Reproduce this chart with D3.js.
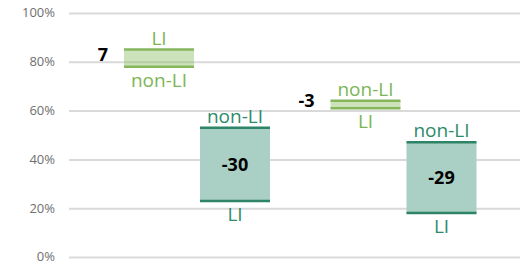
<!DOCTYPE html>
<html>
<head>
<meta charset="utf-8">
<script src="https://cdn.jsdelivr.net/npm/d3@7"></script>
<style>
  body { margin: 0; background: #fff; }
  svg { display: block; }
</style>
</head>
<body>
<div id="chart-container"></div>
<script>
// Data
const groups = ["Group 1", "Group 2"];
const subgroups = ["A", "B"];
const liValues = [85, 23, 61, 18];      // LI share per bar
const nonLiValues = [78, 53, 64, 47];   // non-LI share per bar
const yTicks = [0, 20, 40, 60, 80, 100];

const bars = liValues.map((li, i) => ({
  group: groups[Math.floor(i / 2)],
  sub: subgroups[i % 2],
  li: li,
  nonLi: nonLiValues[i],
  diff: li - nonLiValues[i]
}));

const width = 520, height = 264;
const styles = {
  A: { line: "#86b65c", fill: "#8fbf65", fillOpacity: 0.45, text: "#7cb556" },
  B: { line: "#2e8466", fill: "#aacfc4", fillOpacity: 1, text: "#2d8a6b" }
};

// Scales
const x = d3.scaleBand().domain(groups).range([94, 507]);
const xSub = d3.scaleBand().domain(subgroups).range([30, 176]).paddingInner(0.079);
const y = d3.scaleLinear().domain([0, 100]).range([257, 13]);

const svg = d3.select("#chart-container")
  .append("svg")
  .attr("width", width)
  .attr("height", height);

// Gridlines + y axis
const yAxis = svg.append("g")
  .attr("transform", "translate(69,0)")
  .call(d3.axisLeft(y).tickValues(yTicks).tickSize(-451).tickPadding(14)
    .tickFormat(d => d + "%"));
yAxis.select(".domain").remove();
yAxis.selectAll(".tick line")
  .attr("stroke", "#d9d9d9")
  .attr("stroke-width", 2);
yAxis.selectAll(".tick text")
  .attr("fill", "#6f6f6f")
  .attr("dy", "0.3em")
  .style("font-family", "'Liberation Sans Narrow', 'Open Sans', sans-serif")
  .style("font-size", "13px");

const barG = svg.append("g")
  .selectAll("g")
  .data(bars)
  .join("g")
  .attr("transform", d => `translate(${x(d.group) + xSub(d.sub)},0)`);

const bw = xSub.bandwidth();

// Box between the two values
barG.append("rect")
  .attr("x", 0)
  .attr("width", bw)
  .attr("y", d => y(Math.max(d.li, d.nonLi)))
  .attr("height", d => Math.abs(y(d.li) - y(d.nonLi)))
  .attr("fill", d => styles[d.sub].fill)
  .attr("fill-opacity", d => styles[d.sub].fillOpacity);

// Value lines
["li", "nonLi"].forEach(k => {
  barG.append("line")
    .attr("x1", 0)
    .attr("x2", bw)
    .attr("y1", d => y(d[k]))
    .attr("y2", d => y(d[k]))
    .attr("stroke", d => styles[d.sub].line)
    .attr("stroke-width", 2.5);
});

// LI / non-LI labels
const labelFont = "'Open Sans', sans-serif";
["li", "nonLi"].forEach(k => {
  barG.append("text")
    .attr("x", bw / 2)
    .attr("y", d => {
      const top = d[k] >= (k === "li" ? d.nonLi : d.li);
      return top ? y(d[k]) - 5 : y(d[k]) + 20;
    })
    .attr("text-anchor", "middle")
    .attr("fill", d => styles[d.sub].text)
    .style("font-family", labelFont)
    .style("font-size", "19px")
    .text(k === "li" ? "LI" : "non-LI");
});

// Difference labels
barG.append("text")
  .attr("x", d => Math.abs(d.diff) > 10 ? bw / 2 : -16)
  .attr("y", d => (y(d.li) + y(d.nonLi)) / 2)
  .attr("dy", d => Math.abs(d.diff) > 10 ? "0.35em" : "0.15em")
  .attr("text-anchor", d => Math.abs(d.diff) > 10 ? "middle" : "end")
  .attr("fill", "#000")
  .style("font-family", labelFont)
  .style("font-weight", "bold")
  .style("font-size", "18px")
  .text(d => d.diff);
</script>
</body>
</html>
